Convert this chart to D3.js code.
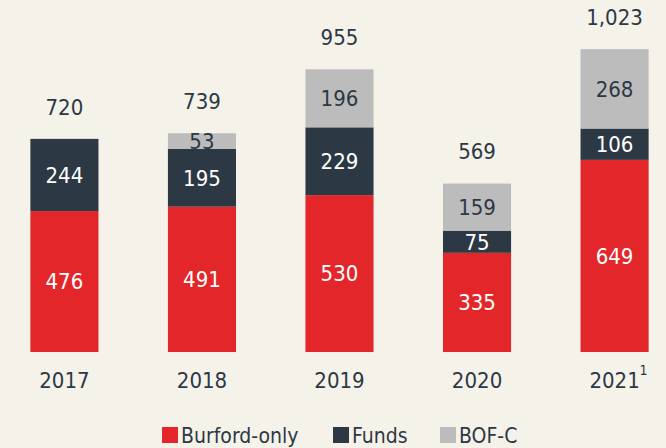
<!DOCTYPE html>
<html><head><meta charset="utf-8">
<script src="https://cdn.jsdelivr.net/npm/d3@7"></script>
<style>
body{margin:0;background:#f5f2ea;}
svg{display:block;}
text{font-family:"DejaVu Sans Condensed","Liberation Sans Narrow",sans-serif;}
</style></head><body>
<svg id="c" width="666" height="448"></svg>
<script>
const years = ["2017","2018","2019","2020","2021"];
const burfordOnly = [476,491,530,335,649];
const funds = [244,195,229,75,106];
const bofc = [0,53,196,159,268];
const totals = ["720","739","955","569","1,023"];
const seriesNames = ["Burford-only","Funds","BOF-C"];
const colors = ["#e3262a","#2d3845","#bcbcbc"];
const labelColors = ["#ffffff","#ffffff","#2d3845"];

const svg = d3.select("#c");
svg.append("rect").attr("width",666).attr("height",448).attr("fill","#f5f2ea");

const x = d3.scaleBand().domain(years).range([-4,683]).paddingInner(0.505).paddingOuter(0.25);
const y = d3.scaleLinear().domain([0,1000]).range([352,56]);

const data = years.map((yr,i)=>({year:yr, "Burford-only":burfordOnly[i], "Funds":funds[i], "BOF-C":bofc[i]}));
const stack = d3.stack().keys(seriesNames)(data);

const g = svg.append("g");
stack.forEach((s,si)=>{
  g.selectAll(null).data(s.filter(d=>d[1]-d[0]>0)).enter().append("rect")
   .attr("x",d=>x(d.data.year)).attr("width",x.bandwidth())
   .attr("y",d=>y(d[1])).attr("height",d=>y(d[0])-y(d[1]))
   .attr("fill",colors[si]);
  g.selectAll(null).data(s.filter(d=>d[1]-d[0]>0)).enter().append("text")
   .attr("x",d=>x(d.data.year)+x.bandwidth()/2)
   .attr("y",d=>(y(d[0])+y(d[1]))/2)
   .attr("dy","0.36em").attr("text-anchor","middle")
   .attr("font-size",22).attr("fill",labelColors[si])
   .text(d=>d[1]-d[0]);
});

// totals
g.selectAll(null).data(data).enter().append("text")
 .attr("x",d=>x(d.year)+x.bandwidth()/2)
 .attr("y",(d,i)=>y(burfordOnly[i]+funds[i]+bofc[i])-32)
 .attr("dy","0.36em").attr("text-anchor","middle")
 .attr("font-size",22).attr("fill","#2d3845")
 .text((d,i)=>totals[i]);

// x axis labels
const xa = svg.append("g").attr("transform","translate(0,352)")
  .call(d3.axisBottom(x).tickSize(0).tickPadding(20));
xa.select(".domain").remove();
xa.selectAll("text").attr("font-size",22).attr("fill","#2d3845")
  .attr("font-family",'"DejaVu Sans Condensed","Liberation Sans Narrow",sans-serif');
svg.append("text").attr("x",x("2021")+x.bandwidth()/2+25).attr("y",375)
  .attr("font-size",14).attr("fill","#2d3845").text("1");

// clipped subtitle
svg.append("text").attr("x",-2).attr("y",-3).attr("font-size",20).attr("fill","#2d3845").text("(US$ in millions)");

// legend
const legX=[162,333,440];
seriesNames.forEach((n,i)=>{
  svg.append("rect").attr("x",legX[i]).attr("y",427).attr("width",16).attr("height",16).attr("fill",colors[i]);
  svg.append("text").attr("x",legX[i]+19).attr("y",435).attr("dy","0.36em")
    .attr("font-size",21).attr("fill","#2d3845").text(n);
});
</script></body></html>
